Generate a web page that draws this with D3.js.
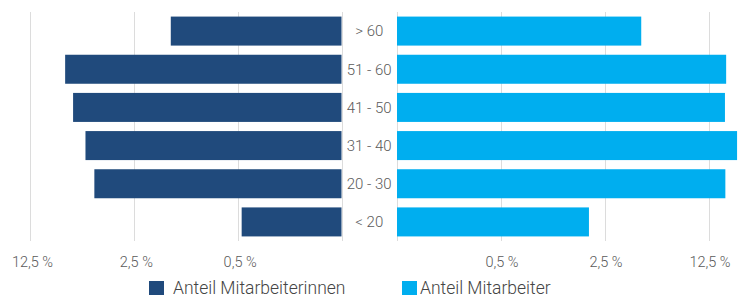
<!DOCTYPE html>
<html><head><meta charset="utf-8">
<script src="https://cdn.jsdelivr.net/npm/d3@7"></script>
<style>
html,body{margin:0;padding:0;background:#fff;}
svg{display:block;font-family:Roboto,"Open Sans",sans-serif;font-weight:300;}
</style></head><body>
<svg id="c" width="742" height="297"></svg>
<script>
const categories = ["> 60", "51 - 60", "41 - 50", "31 - 40", "20 - 30", "< 20"];
const women = [1.41, 7.25, 6.41, 5.29, 4.61, 0.47];
const men = [4.38, 16.3, 16.0, 19.3, 16.1, 1.95];
const tickValues = [0.5, 2.5, 12.5];
const tickLabels = ["0,5 %", "2,5 %", "12,5 %"];
const seriesNames = ["Anteil Mitarbeiterinnen", "Anteil Mitarbeiter"];
const colors = ["#204a7c", "#00aeef"];

(function () {
const svg = d3.select("#c");
const plotTop = 12, plotBottom = 241;
const y = d3.scaleBand().domain(categories).range([plotTop, plotBottom]).paddingInner(0.24).paddingOuter(0.12);
const xL = d3.scaleLog().domain([0.1, 12.5]).range([341.5, 30]);
const xR = d3.scaleLog().domain([0.1, 12.5]).range([397, 709]);

// gridlines
const grid = [0.1, ...tickValues];
svg.append("g").selectAll("line").data(grid).join("line")
  .attr("x1", d => Math.round(xL(d)) + 0.5).attr("x2", d => Math.round(xL(d)) + 0.5)
  .attr("y1", plotTop).attr("y2", plotBottom).attr("stroke", "#dcdcdc").attr("stroke-width", 1);
svg.append("g").selectAll("line").data(grid).join("line")
  .attr("x1", d => Math.round(xR(d)) + 0.5).attr("x2", d => Math.round(xR(d)) + 0.5)
  .attr("y1", plotTop).attr("y2", plotBottom).attr("stroke", "#dcdcdc").attr("stroke-width", 1);

// bars
svg.append("g").selectAll("rect").data(categories).join("rect")
  .attr("x", (d, i) => xL(women[i])).attr("width", (d, i) => xL(0.1) - xL(women[i]))
  .attr("y", d => y(d)).attr("height", y.bandwidth()).attr("fill", colors[0]);
svg.append("g").selectAll("rect").data(categories).join("rect")
  .attr("x", xR(0.1)).attr("width", (d, i) => xR(men[i]) - xR(0.1))
  .attr("y", d => y(d)).attr("height", y.bandwidth()).attr("fill", colors[1]);

// category labels
svg.append("g").selectAll("text").data(categories).join("text")
  .attr("x", (xL(0.1) + xR(0.1)) / 2).attr("y", d => y(d) + y.bandwidth() / 2)
  .attr("dy", "0.36em").attr("text-anchor", "middle")
  .attr("font-size", 15).attr("fill", "#5a5a5a").text(d => d);

// tick labels
svg.append("g").selectAll("text").data(tickValues).join("text")
  .attr("x", d => xL(d) + 2.5).attr("y", 267).attr("text-anchor", "middle")
  .attr("font-size", 14.5).attr("fill", "#5a5a5a").text((d, i) => tickLabels[i]);
svg.append("g").selectAll("text").data(tickValues).join("text")
  .attr("x", d => xR(d) + 1).attr("y", 267).attr("text-anchor", "middle")
  .attr("font-size", 14.5).attr("fill", "#5a5a5a").text((d, i) => tickLabels[i]);

// legend
const legX = [149, 402];
const lg = svg.append("g").selectAll("g").data(seriesNames).join("g")
  .attr("transform", (d, i) => `translate(${legX[i]},281)`);
lg.append("rect").attr("width", 15).attr("height", 14).attr("fill", (d, i) => colors[i]);
lg.append("text").attr("x", (d, i) => i === 0 ? 24 : 18).attr("y", 12.5)
  .attr("font-size", 17.5).attr("fill", "#444").text(d => d);
})();
</script></body></html>
